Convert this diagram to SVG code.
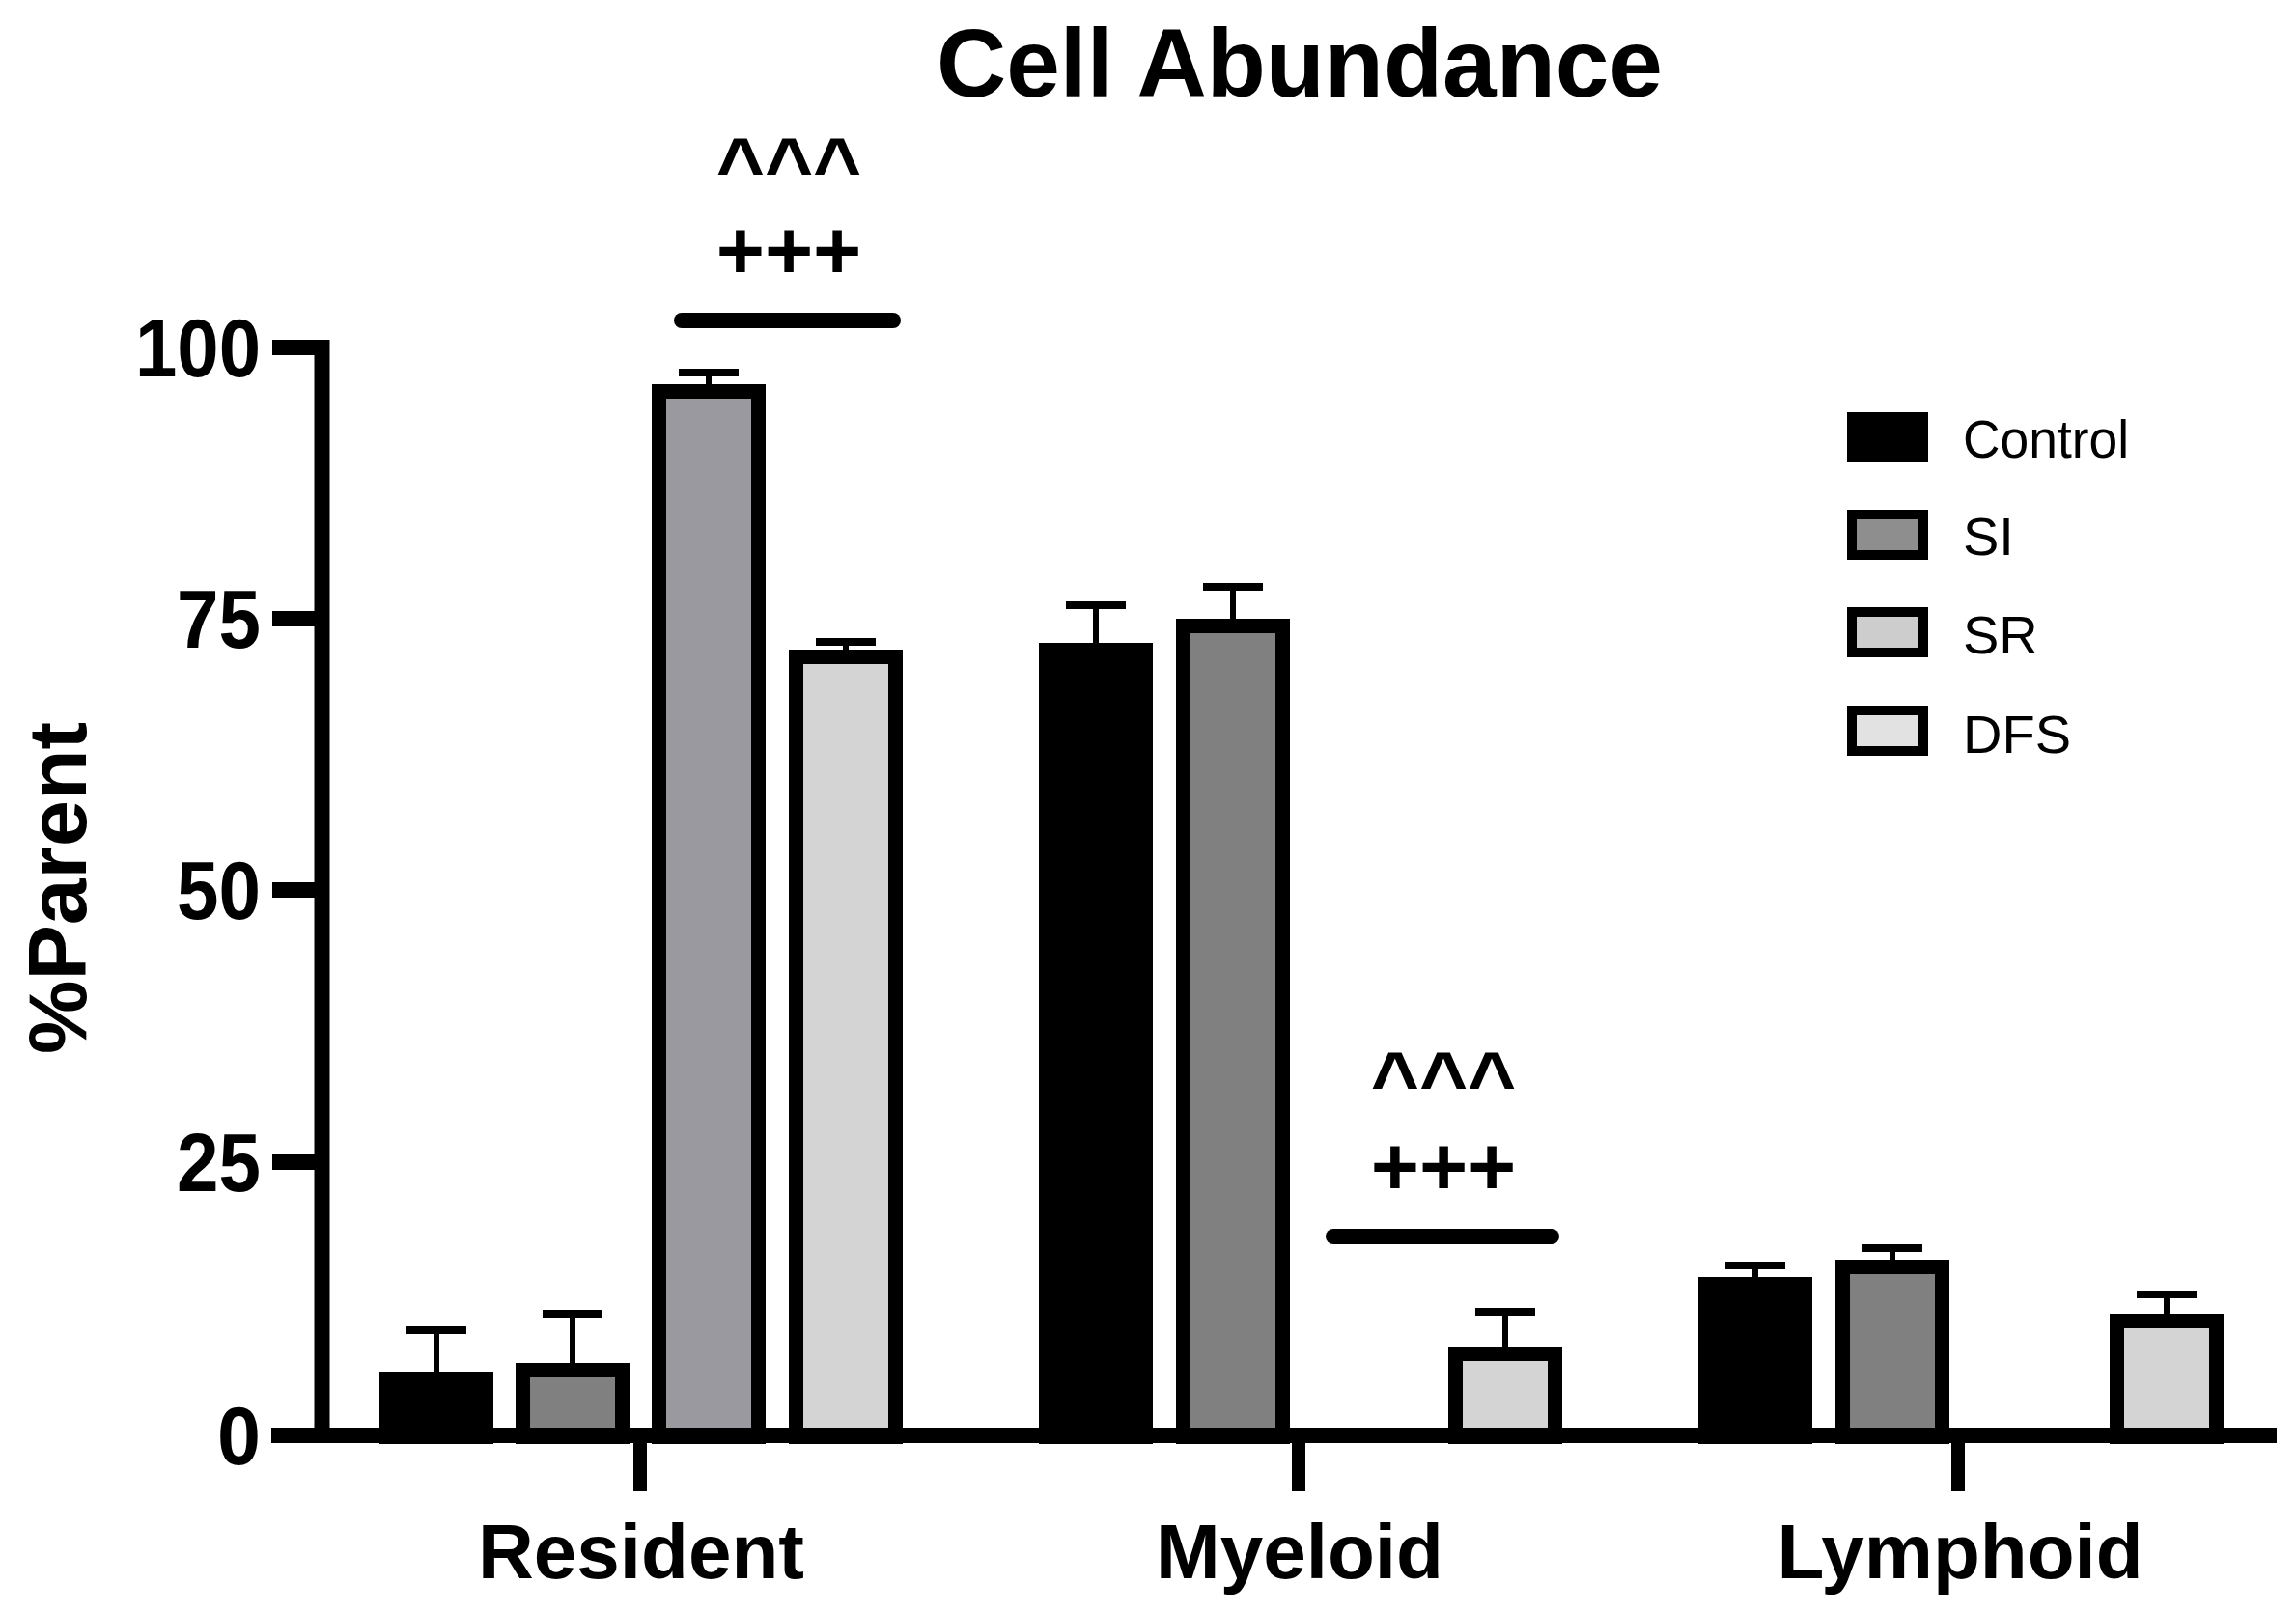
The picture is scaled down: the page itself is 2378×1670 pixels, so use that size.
<svg xmlns="http://www.w3.org/2000/svg" width="2378" height="1670" viewBox="0 0 2378 1670">
<style>
text{font-family:"Liberation Sans",Arial,sans-serif;fill:#000}
.b{font-weight:bold}
.bar{stroke:#000;stroke-width:15}
.ctl{fill:#000}
.si{fill:#808080}
.sr{fill:#9b99a0}
.dfs{fill:#d4d4d4}
.err{stroke:#000;stroke-width:6;fill:none}
.cap{stroke:#000;stroke-width:8}
.axis{stroke:#000;stroke-width:16;fill:none}
.sig{stroke:#000;stroke-width:16;stroke-linecap:round}
.tick{font-size:86px;font-weight:bold}
.cat{font-size:80px;font-weight:bold;text-anchor:middle}
.star{font-size:86px;font-weight:bold;text-anchor:middle}
.leg{font-size:56px}
</style>
<rect width="2378" height="1670" fill="#fff"/>
<g id="title"><text class="b" x="1346" y="100" font-size="100" text-anchor="middle">Cell Abundance</text></g>

<g id="bars-resident">
<line class="err" x1="452" y1="1421" x2="452" y2="1378"/><line class="cap" x1="421" y1="1378" x2="483" y2="1378"/>
<rect class="bar ctl" x="400.5" y="1428.5" width="103" height="60"/>
<line class="err" x1="593" y1="1412" x2="593" y2="1361"/><line class="cap" x1="562" y1="1361" x2="624" y2="1361"/>
<rect class="bar si" x="541.5" y="1419.5" width="103" height="69"/>
<line class="err" x1="734" y1="398" x2="734" y2="386"/><line class="cap" x1="703" y1="386" x2="765" y2="386"/>
<rect class="bar sr" x="682.5" y="405.5" width="103" height="1083"/>
<line class="err" x1="876" y1="673" x2="876" y2="665"/><line class="cap" x1="845" y1="665" x2="907" y2="665"/>
<rect class="bar dfs" x="824.5" y="680.5" width="103" height="808"/>
</g>

<g id="bars-myeloid">
<line class="err" x1="1135" y1="666" x2="1135" y2="627"/><line class="cap" x1="1104" y1="627" x2="1166" y2="627"/>
<rect class="bar ctl" x="1083.5" y="673.5" width="103" height="815"/>
<line class="err" x1="1277" y1="641" x2="1277" y2="608"/><line class="cap" x1="1246" y1="608" x2="1308" y2="608"/>
<rect class="bar si" x="1225.5" y="648.5" width="103" height="840"/>
<line class="err" x1="1559" y1="1395" x2="1559" y2="1359"/><line class="cap" x1="1528" y1="1359" x2="1590" y2="1359"/>
<rect class="bar dfs" x="1507.5" y="1402.5" width="103" height="86"/>
</g>

<g id="bars-lymphoid">
<line class="err" x1="1818" y1="1323" x2="1818" y2="1311"/><line class="cap" x1="1787" y1="1311" x2="1849" y2="1311"/>
<rect class="bar ctl" x="1766.5" y="1330.5" width="103" height="158"/>
<line class="err" x1="1960" y1="1305" x2="1960" y2="1293"/><line class="cap" x1="1929" y1="1293" x2="1991" y2="1293"/>
<rect class="bar si" x="1908.5" y="1312.5" width="103" height="176"/>
<line class="err" x1="2244" y1="1361" x2="2244" y2="1341"/><line class="cap" x1="2213" y1="1341" x2="2275" y2="1341"/>
<rect class="bar dfs" x="2192.5" y="1368.5" width="103" height="120"/>
</g>

<g id="axes">
<path class="axis" d="M282 360 H333.5 V1487"/>
<line class="axis" x1="282" y1="641" x2="333.5" y2="641"/>
<line class="axis" x1="282" y1="922" x2="333.5" y2="922"/>
<line class="axis" x1="282" y1="1204" x2="333.5" y2="1204"/>
<line class="axis" x1="281" y1="1487" x2="2358" y2="1487"/>
<line x1="663" y1="1487" x2="663" y2="1545" stroke="#000" stroke-width="14"/>
<line x1="1345" y1="1487" x2="1345" y2="1545" stroke="#000" stroke-width="14"/>
<line x1="2028" y1="1487" x2="2028" y2="1545" stroke="#000" stroke-width="14"/>
<text class="tick" x="140" y="390" textLength="130" lengthAdjust="spacingAndGlyphs">100</text>
<text class="tick" x="183" y="671" textLength="87" lengthAdjust="spacingAndGlyphs">75</text>
<text class="tick" x="183" y="952" textLength="87" lengthAdjust="spacingAndGlyphs">50</text>
<text class="tick" x="183" y="1234" textLength="87" lengthAdjust="spacingAndGlyphs">25</text>
<text class="tick" x="225" y="1517" textLength="45" lengthAdjust="spacingAndGlyphs">0</text>
<text class="b" x="89" y="920" font-size="86" text-anchor="middle" transform="rotate(-90 89 920)">%Parent</text>
<text class="cat" x="664" y="1635">Resident</text>
<text class="cat" x="1346" y="1635">Myeloid</text>
<text class="cat" x="2030" y="1635">Lymphoid</text>
</g>

<g id="significance">
<line class="sig" x1="706" y1="332" x2="925" y2="332"/>
<text class="star" x="817" y="202">^^^</text>
<text class="star" x="817" y="289">+++</text>
<line class="sig" x1="1381" y1="1281" x2="1607" y2="1281"/>
<text class="star" x="1495" y="1149">^^^</text>
<text class="star" x="1495" y="1238">+++</text>
</g>

<g id="legend">
<rect x="1918" y="432" width="74" height="42" fill="#000" stroke="#000" stroke-width="10"/>
<rect x="1918" y="533" width="74" height="42" fill="#8e8e8e" stroke="#000" stroke-width="10"/>
<rect x="1918" y="634" width="74" height="42" fill="#cdcdcd" stroke="#000" stroke-width="10"/>
<rect x="1918" y="736" width="74" height="42" fill="#e2e2e2" stroke="#000" stroke-width="10"/>
<text class="leg" x="2033" y="474" textLength="172" lengthAdjust="spacingAndGlyphs">Control</text>
<text class="leg" x="2033" y="575">SI</text>
<text class="leg" x="2033" y="677">SR</text>
<text class="leg" x="2033" y="780">DFS</text>
</g>
</svg>
